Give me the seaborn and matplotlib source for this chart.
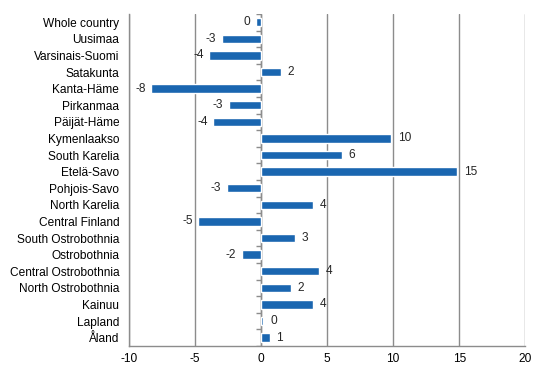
import numpy as np
import pandas as pd
import matplotlib
matplotlib.use("Agg")
import matplotlib.pyplot as plt
import seaborn as sns

regions = ["Whole country", "Uusimaa", "Varsinais-Suomi", "Satakunta", "Kanta-Häme",
           "Pirkanmaa", "Päijät-Häme", "Kymenlaakso", "South Karelia", "Etelä-Savo",
           "Pohjois-Savo", "North Karelia", "Central Finland", "South Ostrobothnia",
           "Ostrobothnia", "Central Ostrobothnia", "North Ostrobothnia", "Kainuu",
           "Lapland", "Åland"]
values = [-0.4, -2.95, -3.9, 1.5, -8.3, -2.45, -3.6, 9.85, 6.1, 14.85,
          -2.6, 3.9, -4.75, 2.55, -1.45, 4.4, 2.25, 3.9, 0.18, 0.65]
labels = ["0", "-3", "-4", "2", "-8", "-3", "-4", "10", "6", "15",
          "-3", "4", "-5", "3", "-2", "4", "2", "4", "0", "1"]

df = pd.DataFrame({"region": regions, "value": values})

sns.set_style("white")
plt.rcParams["font.family"] = ["Liberation Sans", "DejaVu Sans"]
plt.rcParams["axes.unicode_minus"] = False
FS = 8.6

fig = plt.figure(figsize=(5.46, 3.76), dpi=100)
ax = fig.add_axes([0.236, 0.080, 0.726, 0.883])

sns.barplot(data=df, x="value", y="region", color="#1a66b0", saturation=1,
            width=0.5, orient="h", ax=ax, zorder=3)

ax.set_xlim(-10, 20)
ax.set_ylim(len(regions) - 0.5, -0.5)
ax.set_xticks(np.arange(-10, 21, 5))
ax.xaxis.grid(True, color="#8c8c8c", linewidth=1.0, zorder=0)
ax.set_axisbelow(True)
ax.set_xlabel("")
ax.set_ylabel("")

for side in ["top", "right"]:
    ax.spines[side].set_visible(False)
for side in ["left", "bottom"]:
    ax.spines[side].set_color("#8c8c8c")
    ax.spines[side].set_linewidth(1.0)

# zero axis with small ticks between categories
ax.axvline(0, color="#8c8c8c", linewidth=1.0, zorder=2)
ax.hlines(np.arange(-0.5, len(regions)), -0.35, 0, color="#8c8c8c",
          linewidth=1.0, zorder=2)

ax.tick_params(axis="y", length=0, pad=7, labelsize=FS, labelcolor="#000000")
ax.tick_params(axis="x", length=0, pad=5, labelsize=FS, labelcolor="#000000")

for i, (v, lab) in enumerate(zip(values, labels)):
    if v < 0:
        ax.annotate(lab, (v, i), xytext=(-4, 0), textcoords="offset points",
                    ha="right", va="center", fontsize=FS)
    else:
        ax.annotate(lab, (v, i), xytext=(5, 0), textcoords="offset points",
                    ha="left", va="center", fontsize=FS)

fig.savefig("out.png", dpi=100)
